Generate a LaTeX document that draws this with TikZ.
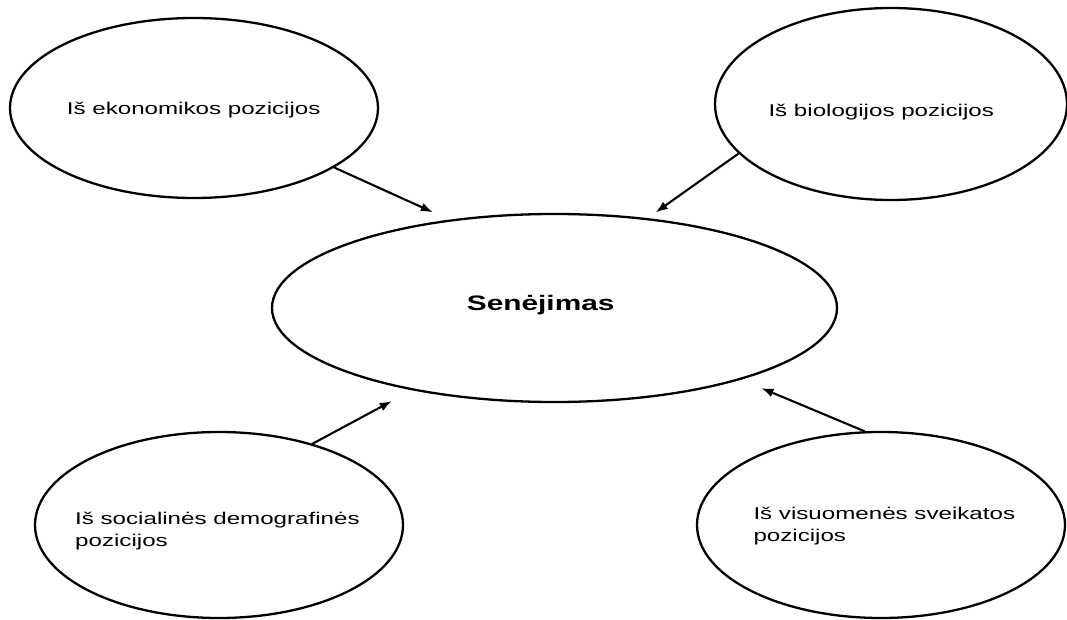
\documentclass[tikz,border=0pt]{standalone}
\usepackage{fontspec}
\setmainfont{Liberation Sans}
\newfontfamily\widefont{Liberation Sans}[FakeStretch=1.42]
\usetikzlibrary{shapes.geometric,arrows.meta}

\begin{document}
\begin{tikzpicture}[x=1pt, y=-1pt,
        bubble/.style={draw, ellipse, line width=2.3pt, inner sep=0pt},
        lbl/.style={inner sep=0pt, anchor=base west, align=left,
            font=\widefont\fontsize{17}{22}\selectfont},
        arr/.style={-{Latex[length=12pt,width=9pt]}, line width=2.1pt}]
      \useasboundingbox (0,0) rectangle (1067,620);

      % the five bubbles
      \node[bubble, minimum width=368pt, minimum height=180pt] (eko) at (194,108) {};
      \node[bubble, minimum width=352pt, minimum height=192pt] (bio) at (891,104) {};
      \node[bubble, minimum width=565pt, minimum height=188pt] (sen) at (554.5,308) {};
      \node[bubble, minimum width=368pt, minimum height=186pt] (soc) at (219,525) {};
      \node[bubble, minimum width=368pt, minimum height=186pt] (sve) at (881,525) {};

      % texts
      \node[lbl] (ekoText) at (66.7,115) {Iš ekonomikos pozicijos};
      \node[lbl] (bioText) at (768.3,116.7) {Iš biologijos pozicijos};
      \node[lbl, font=\widefont\bfseries\fontsize{21}{25}\selectfont] (senText) at (466.7,310) {Senėjimas};
      \node[lbl] (socText) at (75,546.7) {Iš socialinės demografinės\\pozicijos};
      \node[lbl] (sveText) at (753.3,541) {Iš visuomenės sveikatos\\pozicijos};

      % arrows into the centre
      \draw[arr, shorten >=18pt] (eko.-23) -- (sen.140);
      \draw[arr, shorten >=10pt] (bio.198) -- (sen.44);
      \draw[arr, shorten >=23pt] (soc.41.5) -- (sen.-150);
      \draw[arr, shorten >=22pt] (sve.100) -- (sen.-21);

\end{tikzpicture}
\end{document}
